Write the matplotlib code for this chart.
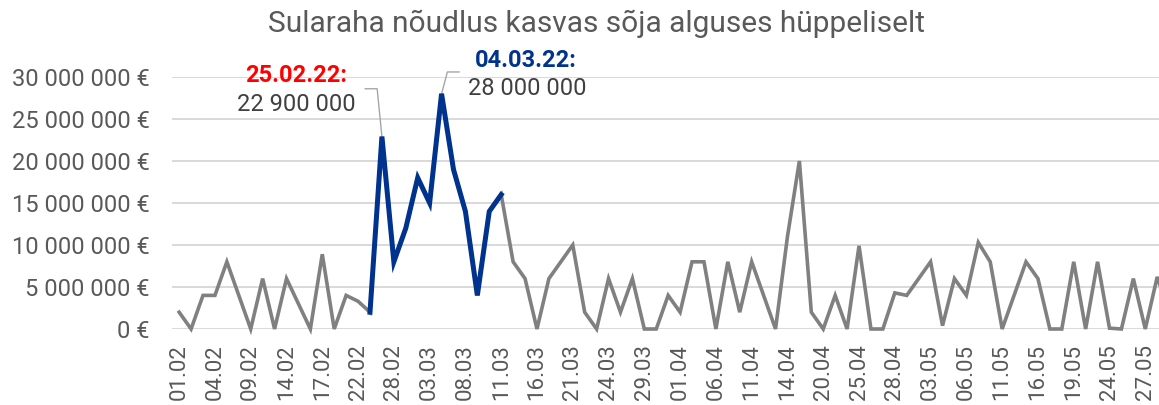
import matplotlib
matplotlib.use("Agg")
import matplotlib.pyplot as plt
from matplotlib.ticker import FuncFormatter

plt.rcParams['font.family'] = ['Roboto', 'DejaVu Sans']

dates = ["01.02", "02.02", "03.02", "04.02", "07.02", "08.02", "09.02", "10.02", "11.02", "14.02",
         "15.02", "16.02", "17.02", "18.02", "21.02", "22.02", "23.02", "25.02", "28.02", "01.03",
         "02.03", "03.03", "04.03", "07.03", "08.03", "09.03", "10.03", "11.03", "14.03", "15.03",
         "16.03", "17.03", "18.03", "21.03", "22.03", "23.03", "24.03", "25.03", "28.03", "29.03",
         "30.03", "31.03", "01.04", "04.04", "05.04", "06.04", "07.04", "08.04", "11.04", "12.04",
         "13.04", "14.04", "18.04", "19.04", "20.04", "21.04", "22.04", "25.04", "26.04", "27.04",
         "28.04", "29.04", "02.05", "03.05", "04.05", "05.05", "06.05", "09.05", "10.05", "11.05",
         "12.05", "13.05", "16.05", "17.05", "18.05", "19.05", "20.05", "23.05", "24.05", "25.05",
         "26.05", "27.05", "30.05", "31.05"]

values = [2.0, 0, 4.0, 4.0, 8.0, 4.0, 0, 6.0, 0, 6.0,
          3.0, 0, 8.9, 0, 4.0, 3.3, 2.0, 22.9, 8.0, 12.0,
          18.0, 15.0, 28.0, 19.0, 14.0, 4.0, 14.0, 16.0, 8.0, 6.0,
          0, 6.0, 8.0, 10.0, 2.0, 0, 6.0, 2.0, 6.0, 0,
          0, 4.0, 2.0, 8.0, 8.0, 0, 8.0, 2.0, 8.0, 4.0,
          0, 11.0, 20.0, 2.0, 0, 4.0, 0, 9.9, 0, 0,
          4.3, 4.0, 6.0, 8.0, 0.4, 6.0, 4.0, 10.3, 8.0, 0,
          4.0, 8.0, 6.0, 0, 0, 8.0, 0, 8.0, 0.1, 0,
          6.0, 0, 6.2, 2.0]
values = [v * 1_000_000 for v in values]

highlight_start = "23.02"
highlight_end = "11.03"
tick_step = 3

title = "Sularaha nõudlus kasvas sõja alguses hüppeliselt"
ann1_date, ann1_value = "25.02.22:", "22 900 000"
ann2_date, ann2_value = "04.03.22:", "28 000 000"

W, H = 1159, 405
fig = plt.figure(figsize=(W / 100, H / 100), dpi=100)
ax = fig.add_axes([172 / W, (H - 329) / H, 1 - 172 / W, (329 - 77) / H])

x = list(range(len(values)))
ax.plot(x, values, color="#808080", lw=2.6, solid_joinstyle="miter", clip_on=False, zorder=3)
i0, i1 = dates.index(highlight_start), dates.index(highlight_end)
ax.plot(x[i0:i1 + 1], values[i0:i1 + 1], color="#00338D", lw=3.6, solid_joinstyle="miter",
        clip_on=False, zorder=4)

ax.set_ylim(0, 30_000_000)
ax.set_xlim(-0.6, 82.15)
ax.set_yticks(range(0, 30_000_001, 5_000_000))
ax.yaxis.set_major_formatter(FuncFormatter(lambda v, p: f"{int(v):,}".replace(",", " ") + " €"))
ax.set_xticks(x[::tick_step])
ax.set_xticklabels(dates[::tick_step], rotation=90)
ax.grid(axis="y", color="#d9d9d9", lw=1.4, zorder=0)
ax.tick_params(axis="y", length=0, pad=16, labelsize=17, labelcolor="#595959")
ax.tick_params(axis="x", length=0, pad=11, labelsize=16, labelcolor="#595959")
for s in ax.spines.values():
    s.set_visible(False)

fig.text(596.5 / W, 1 - 24 / H, title, ha="center", va="center", fontsize=21.5, color="#595959")

# annotations
i_a = dates.index("25.02")
i_b = dates.index("04.03")
ax.text(9.8, 30.2e6, ann1_date, ha="center", va="center", fontsize=17, fontweight="bold",
        color="#FF0000", clip_on=False)
ax.text(9.8, 26.7e6, ann1_value, ha="center", va="center", fontsize=17, color="#404040", clip_on=False)
ax.plot([15.6, 16.6, i_a], [28.6e6, 28.6e6, values[i_a]], color="#a6a6a6", lw=1.0, clip_on=False, zorder=2)

ax.text(29.1, 32.0e6, ann2_date, ha="center", va="center", fontsize=17, fontweight="bold",
        color="#00338D", clip_on=False)
ax.text(29.2, 28.6e6, ann2_value, ha="center", va="center", fontsize=17, color="#404040", clip_on=False)
ax.plot([i_b, 22.49, 23.47], [values[i_b], 30.6e6, 30.6e6], color="#a6a6a6", lw=1.0, clip_on=False, zorder=2)

fig.savefig("out.png", dpi=100)
